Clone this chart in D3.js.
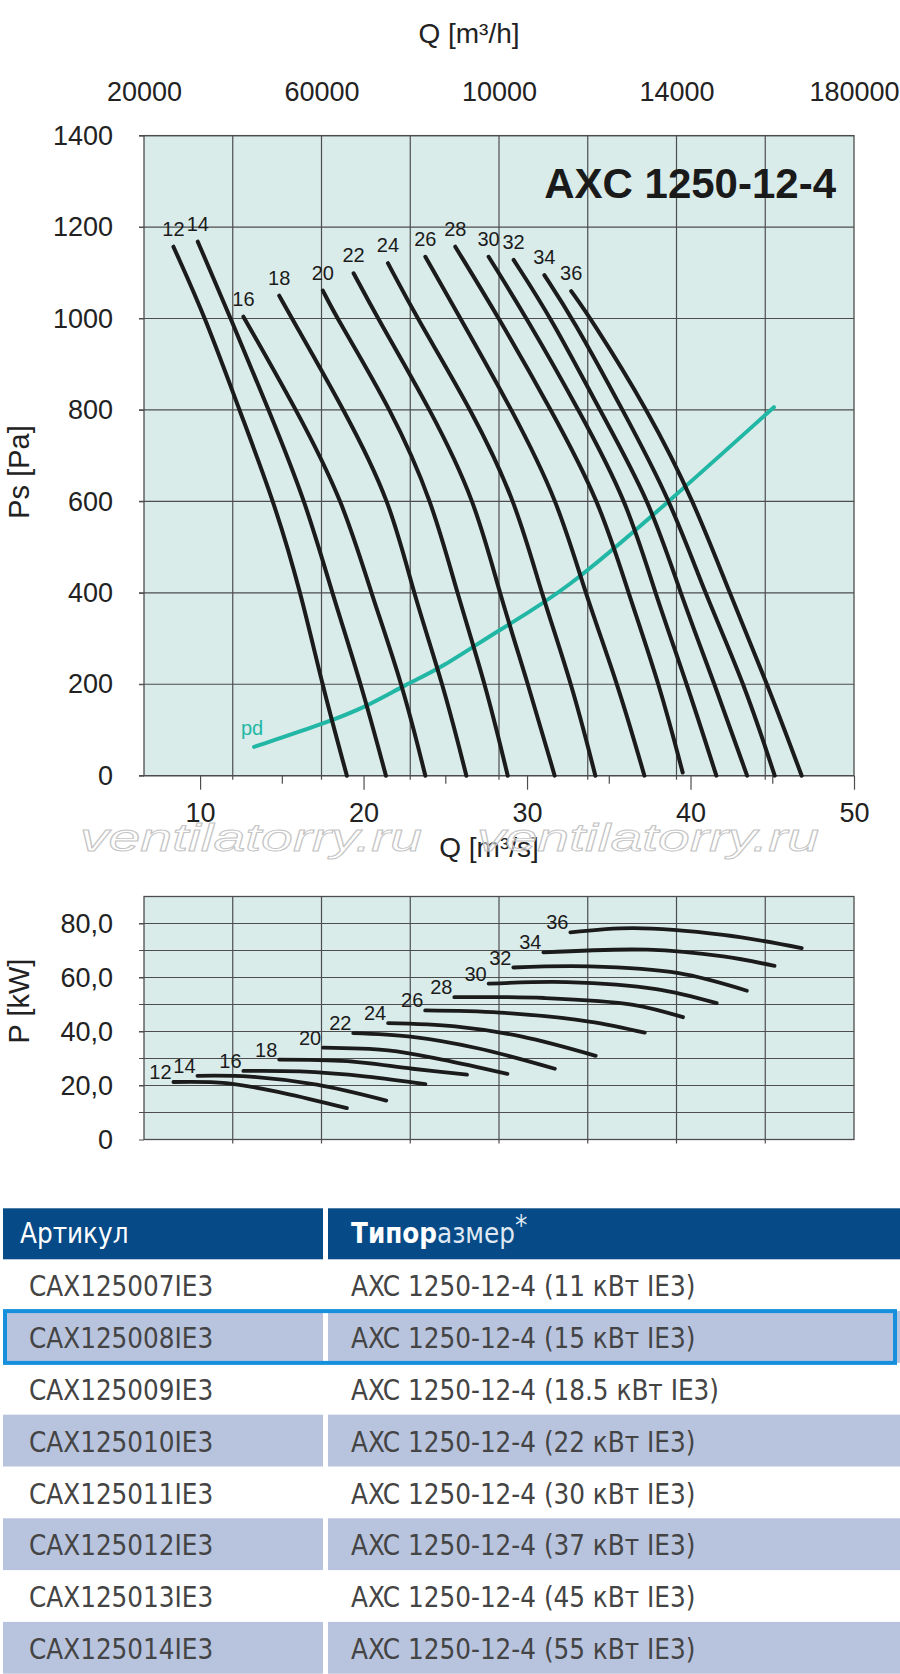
<!DOCTYPE html>
<html>
<head>
<meta charset="utf-8">
<script src="https://cdn.jsdelivr.net/npm/d3@7"></script>
<style>
	body { margin: 0; background: #fff; }
	text { font-family: "Liberation Sans", Arial, sans-serif; }
</style>
</head>
<body>
<div id="chart"></div>
<script>

///////////////////////////////////////////////////////////////////////
// data

const curve_names = [ 12, 14, 16, 18, 20, 22, 24, 26, 28, 30, 32, 34, 36 ];

// static pressure curves, [ Q m3/s, Ps Pa ]
const ps_curves = [
	[ [8.37,1157], [10.35,1000], [12.4,800], [14.52,600], [16.17,400], [17.46,200], [18.98,0] ],
	[ [9.86,1168], [11.88,1000], [14.2,800], [16.45,600], [18.07,400], [19.86,200], [21.37,0] ],
	[ [12.65,1004], [15.91,800], [18.75,600], [20.45,400], [22.38,200], [23.78,0] ],
	[ [14.84,1050], [15.62,1000], [18.82,800], [21.65,600], [23.03,400], [24.87,200], [26.29,0] ],
	[ [17.51,1061], [18.38,1000], [21.71,800], [24.2,600], [25.71,400], [27.46,200], [28.82,0] ],
	[ [19.39,1099], [20.87,1000], [24.11,800], [26.84,600], [28.3,400], [30.07,200], [31.69,0] ],
	[ [21.49,1121], [23.28,1000], [26.61,800], [29.31,600], [30.86,400], [32.75,200], [34.18,0] ],
	[ [23.78,1135], [25.93,1000], [29.09,800], [31.9,600], [33.54,400], [35.56,200], [37.18,0] ],
	[ [25.61,1157], [28.3,1000], [31.48,800], [34.44,600], [36.19,400], [38.1,200], [39.52,7] ],
	[ [27.65,1135], [30.0,1000], [33.17,800], [36.12,600], [37.82,400], [39.79,200], [41.58,0] ],
	[ [29.18,1128], [31.5,1000], [34.44,800], [37.53,600], [39.36,400], [41.48,200], [43.46,0] ],
	[ [31.06,1095], [32.8,1000], [35.85,800], [38.8,600], [40.86,400], [43.31,200], [45.15,0] ],
	[ [32.7,1060], [33.9,1000], [37.39,800], [40.21,600], [42.38,400], [44.71,200], [46.8,0] ]
];

// dynamic pressure line
const pd_curve = [ [13.3,63], [17.5,113], [20.2,151], [22.6,200], [24.7,234], [28.4,322], [32.2,400], [38.7,600], [45.1,806] ];

// shaft power curves, [ Q m3/s, P kW ]
const power_curves = [
	[ [8.37,21.3], [11.6,20.9], [15.1,17.2], [18.98,11.6] ],
	[ [9.84,23.6], [13.06,23.3], [17.14,20.3], [21.39,14.4] ],
	[ [12.65,25.4], [16.12,25.2], [20.2,23.3], [23.78,20.5] ],
	[ [14.84,29.6], [19.0,29.0], [23.0,26.2], [26.33,24.0] ],
	[ [17.52,34.0], [21.5,33.0], [24.8,29.6], [28.8,24.3] ],
	[ [19.37,39.4], [22.87,38.1], [26.97,33.8], [31.7,26.2] ],
	[ [21.5,43.1], [25.6,41.9], [29.7,38.1], [34.2,31.0] ],
	[ [23.77,47.8], [28.34,47.0], [33.8,43.7], [37.2,39.6] ],
	[ [25.55,52.7], [31.06,52.4], [36.5,49.9], [39.54,45.3] ],
	[ [27.65,57.7], [32.43,58.3], [37.9,55.7], [41.6,50.5] ],
	[ [29.16,63.7], [33.8,64.1], [39.27,61.6], [43.45,55.1] ],
	[ [31.0,69.3], [37.36,70.3], [42.0,67.8], [45.14,64.3] ],
	[ [32.65,76.7], [36.5,78.3], [42.0,75.8], [46.8,70.9] ]
];

const ps_ticks = [ 0, 200, 400, 600, 800, 1000, 1200, 1400 ];
const q_ticks = [ 10, 20, 30, 40, 50 ];
const q_minor_ticks = [ 15, 25, 35, 45 ];
const qh_grid = [ 40000, 60000, 80000, 100000, 120000, 140000, 160000 ];
const qh_ticks = [ 20000, 60000, 100000, 140000, 180000 ];
const qh_tick_labels = [ "20000", "60000", "10000", "14000", "180000" ];
const p_grid = [ 10, 20, 30, 40, 50, 60, 70, 80 ];
const p_ticks = [ 0, 20, 40, 60, 80 ];
const p_tick_labels = [ "0", "20,0", "40,0", "60,0", "80,0" ];

const articles = [ "CAX125007IE3", "CAX125008IE3", "CAX125009IE3", "CAX125010IE3",
	"CAX125011IE3", "CAX125012IE3", "CAX125013IE3", "CAX125014IE3" ];
const sizes = [ "AXC 1250-12-4 (11 кВт IE3)", "AXC 1250-12-4 (15 кВт IE3)", "AXC 1250-12-4 (18.5 кВт IE3)",
	"AXC 1250-12-4 (22 кВт IE3)", "AXC 1250-12-4 (30 кВт IE3)", "AXC 1250-12-4 (37 кВт IE3)",
	"AXC 1250-12-4 (45 кВт IE3)", "AXC 1250-12-4 (55 кВт IE3)" ];
const selected_row = 1;

///////////////////////////////////////////////////////////////////////

const W = 900, H = 1674;
const left = 144, right = 854;
const grid_color = "#4d4d4d";
const plot_bg = "#d9ecea";

const svg = d3.select( "#chart" ).append( "svg" )
	.attr( "width", W )
	.attr( "height", H );

let x_q = d3.scaleLinear().domain( [ 6.57, 50 ] ).range( [ left, right ] );
let x_qh = d3.scaleLinear().domain( [ 20000, 180000 ] ).range( [ left, right ] );
let y_ps = d3.scaleLinear().domain( [ 0, 1400 ] ).range( [ 775.7, 135.6 ] );
let y_p = d3.scaleLinear().domain( [ 0, 90 ] ).range( [ 1139.5, 896.5 ] );

function plot_frame( y_scale, y_top, y_grid )	{

	let g = svg.append( "g" );
	g.append( "rect" )
		.attr( "x", left ).attr( "y", y_scale( y_top ) )
		.attr( "width", right - left ).attr( "height", y_scale( 0 ) - y_scale( y_top ) )
		.attr( "fill", plot_bg );

	// vertical grid, a little below the bottom edge
	g.selectAll( "line.v" )
		.data( qh_grid )
		.join( "line" )
			.attr( "class", "v" )
			.attr( "x1", d => x_qh( d ) ).attr( "x2", d => x_qh( d ) )
			.attr( "y1", y_scale( y_top ) ).attr( "y2", y_scale( 0 ) + 4 )
			.attr( "stroke", grid_color ).attr( "stroke-width", 1.2 );

	// horizontal grid, poking out left as ticks
	g.selectAll( "line.h" )
		.data( y_grid )
		.join( "line" )
			.attr( "class", "h" )
			.attr( "x1", left - 5 ).attr( "x2", right )
			.attr( "y1", d => y_scale( d ) ).attr( "y2", d => y_scale( d ) )
			.attr( "stroke", grid_color ).attr( "stroke-width", 1.2 );

	g.append( "rect" )
		.attr( "x", left ).attr( "y", y_scale( y_top ) )
		.attr( "width", right - left ).attr( "height", y_scale( 0 ) - y_scale( y_top ) )
		.attr( "fill", "none" )
		.attr( "stroke", grid_color ).attr( "stroke-width", 1.3 );
	return( g );
}

function axis_text( sel, size )	{
	sel.select( ".domain" ).remove();
	sel.selectAll( "text" )
		.attr( "font-size", size )
		.attr( "fill", "#222" )
		.style( "font-family", "'Liberation Sans', Arial, sans-serif" );
}

///////////////////////////////////////////////////////////////////////
// top chart: Ps over Q

plot_frame( y_ps, 1400, ps_ticks );

svg.append( "g" )
	.attr( "transform", "translate(" + left + ",0)" )
	.call( d3.axisLeft( y_ps ).tickValues( ps_ticks ).tickSize( 5 ).tickPadding( 26 )
		.tickFormat( d3.format( "d" ) ) )
	.call( axis_text, 27 )
	.call( g => g.selectAll( ".tick line" ).attr( "stroke", grid_color ) );

svg.append( "g" )
	.attr( "transform", "translate(0," + y_ps( 0 ) + ")" )
	.call( d3.axisBottom( x_q ).tickValues( q_ticks ).tickSize( 14 ).tickPadding( 13 ) )
	.call( axis_text, 27 )
	.call( g => g.selectAll( ".tick line" ).attr( "stroke", grid_color ).attr( "stroke-width", 1.2 ) );

svg.append( "g" )
	.attr( "transform", "translate(0," + y_ps( 0 ) + ")" )
	.call( d3.axisBottom( x_q ).tickValues( q_minor_ticks ).tickSize( 8 ).tickFormat( "" ) )
	.call( g => g.select( ".domain" ).remove() )
	.call( g => g.selectAll( ".tick line" ).attr( "stroke", grid_color ).attr( "stroke-width", 1.2 ) );

svg.append( "g" )
	.attr( "transform", "translate(0," + y_ps( 1400 ) + ")" )
	.call( d3.axisTop( x_qh ).tickValues( qh_ticks ).tickSize( 0 ).tickPadding( 35 )
		.tickFormat( ( d, i ) => qh_tick_labels[ i ] ) )
	.call( axis_text, 27 );

svg.append( "text" )
	.attr( "x", 469 ).attr( "y", 43 )
	.attr( "text-anchor", "middle" )
	.attr( "font-size", 28 ).attr( "fill", "#222" )
	.text( "Q [m³/h]" );

svg.append( "text" )
	.attr( "x", 489 ).attr( "y", 857 )
	.attr( "text-anchor", "middle" )
	.attr( "font-size", 28 ).attr( "fill", "#222" )
	.text( "Q [m³/s]" );

svg.append( "text" )
	.attr( "transform", "translate(29,472) rotate(-90)" )
	.attr( "text-anchor", "middle" )
	.attr( "font-size", 29 ).attr( "fill", "#222" )
	.text( "Ps [Pa]" );

svg.append( "text" )
	.attr( "x", 836 ).attr( "y", 198 )
	.attr( "text-anchor", "end" )
	.attr( "font-size", 42 ).attr( "font-weight", "bold" ).attr( "fill", "#1a1a1a" )
	.text( "AXC 1250-12-4" );

// B-spline keeps the hand-read points from wobbling
let ps_line = d3.line()
	.curve( d3.curveBasis )
	.x( d => x_q( d[ 0 ] ) )
	.y( d => y_ps( d[ 1 ] ) );

svg.append( "path" )
	.datum( pd_curve )
		.attr( "d", ps_line )
		.attr( "fill", "none" )
		.attr( "stroke", "#22b7a5" )
		.attr( "stroke-width", 4 )
		.attr( "stroke-linecap", "round" );

svg.append( "text" )
	.attr( "x", x_q( pd_curve[ 0 ][ 0 ] ) - 2 )
	.attr( "y", y_ps( pd_curve[ 0 ][ 1 ] ) - 12 )
	.attr( "text-anchor", "middle" )
	.attr( "font-size", 20 ).attr( "fill", "#22b7a5" )
	.text( "pd" );

svg.append( "g" ).selectAll( "path" )
	.data( ps_curves )
	.join( "path" )
		.attr( "d", ps_line )
		.attr( "fill", "none" )
		.attr( "stroke", "#1b1b1b" )
		.attr( "stroke-width", 4 )
		.attr( "stroke-linecap", "round" );

svg.append( "g" ).selectAll( "text" )
	.data( ps_curves )
	.join( "text" )
		.attr( "x", d => x_q( d[ 0 ][ 0 ] ) )
		.attr( "y", d => y_ps( d[ 0 ][ 1 ] ) - 11 )
		.attr( "text-anchor", "middle" )
		.attr( "font-size", 20 ).attr( "fill", "#1b1b1b" )
		.text( ( d, i ) => curve_names[ i ] );

///////////////////////////////////////////////////////////////////////
// bottom chart: P over Q

plot_frame( y_p, 90, p_grid );

svg.append( "g" )
	.attr( "transform", "translate(" + left + ",0)" )
	.call( d3.axisLeft( y_p ).tickValues( p_ticks ).tickSize( 5 ).tickPadding( 26 )
		.tickFormat( ( d, i ) => p_tick_labels[ i ] ) )
	.call( axis_text, 27 )
	.call( g => g.selectAll( ".tick line" ).attr( "stroke", grid_color ) );

svg.append( "text" )
	.attr( "transform", "translate(29,1001) rotate(-90)" )
	.attr( "text-anchor", "middle" )
	.attr( "font-size", 29 ).attr( "fill", "#222" )
	.text( "P [kW]" );

let p_line = d3.line()
	.curve( d3.curveCatmullRom.alpha( 0.5 ) )
	.x( d => x_q( d[ 0 ] ) )
	.y( d => y_p( d[ 1 ] ) );

svg.append( "g" ).selectAll( "path" )
	.data( power_curves )
	.join( "path" )
		.attr( "d", p_line )
		.attr( "fill", "none" )
		.attr( "stroke", "#1b1b1b" )
		.attr( "stroke-width", 3.8 )
		.attr( "stroke-linecap", "round" );

svg.append( "g" ).selectAll( "text" )
	.data( power_curves )
	.join( "text" )
		.attr( "x", d => x_q( d[ 0 ][ 0 ] ) - 13 )
		.attr( "y", d => y_p( d[ 0 ][ 1 ] ) - 3 )
		.attr( "text-anchor", "middle" )
		.attr( "font-size", 20 ).attr( "fill", "#1b1b1b" )
		.text( ( d, i ) => curve_names[ i ] );

///////////////////////////////////////////////////////////////////////
// watermark

svg.append( "g" ).selectAll( "text" )
	.data( [ 80, 477 ] )
	.join( "text" )
		.attr( "x", d => d ).attr( "y", 851 )
		.attr( "font-size", 38 )
		.attr( "font-style", "italic" )
		.attr( "textLength", 342 )
		.attr( "lengthAdjust", "spacingAndGlyphs" )
		.attr( "fill", "rgba(255,255,255,0.55)" )
		.attr( "stroke", "#c4c4c4" )
		.attr( "stroke-width", 0.9 )
		.text( "ventilatorry.ru" );

///////////////////////////////////////////////////////////////////////
// table

const tab_top = 1208.3, head_h = 51, row_h = 51.8;
const col_split = 323, col_gap = 5;
const tab_font = "'Liberation Sans Narrow', 'DejaVu Sans Condensed', 'Liberation Sans', sans-serif";
const tab_size = 27.5;

let tab = svg.append( "g" );

tab.append( "rect" )
	.attr( "x", 3 ).attr( "y", tab_top )
	.attr( "width", col_split - 3 ).attr( "height", head_h )
	.attr( "fill", "#064a87" );
tab.append( "rect" )
	.attr( "x", col_split + col_gap ).attr( "y", tab_top )
	.attr( "width", W - col_split - col_gap ).attr( "height", head_h )
	.attr( "fill", "#064a87" );

tab.append( "text" )
	.attr( "x", 20 ).attr( "y", tab_top + 35 )
	.attr( "font-size", tab_size ).attr( "fill", "#fff" )
	.style( "font-family", tab_font )
	.text( "Артикул" );

let head2 = tab.append( "text" )
	.attr( "x", 351 ).attr( "y", tab_top + 35 )
	.attr( "font-size", tab_size ).attr( "fill", "#fff" )
	.style( "font-family", tab_font );
head2.append( "tspan" ).attr( "font-weight", "bold" ).text( "Типор" );
head2.append( "tspan" ).attr( "fill", "#dfe8f3" ).text( "азмер" );
head2.append( "tspan" ).attr( "dy", -8 ).attr( "fill", "#dfe8f3" ).text( "*" );

let rows = tab.selectAll( "g.row" )
	.data( articles )
	.join( "g" )
		.attr( "class", "row" )
		.attr( "transform", ( d, i ) => "translate(0," + ( tab_top + head_h + i * row_h ) + ")" );

rows.filter( ( d, i ) => i % 2 == 1 )
	.call( g => g.append( "rect" )
		.attr( "x", 3 ).attr( "width", col_split - 3 ).attr( "height", row_h )
		.attr( "fill", "#b8c3dd" ) )
	.call( g => g.append( "rect" )
		.attr( "x", col_split + col_gap ).attr( "width", W - col_split - col_gap ).attr( "height", row_h )
		.attr( "fill", "#b8c3dd" ) );

rows.append( "text" )
	.attr( "x", 29 ).attr( "y", 37 )
	.attr( "font-size", tab_size ).attr( "fill", "#444" )
	.style( "font-family", tab_font )
	.text( d => d );

rows.append( "text" )
	.attr( "x", 351 ).attr( "y", 37 )
	.attr( "font-size", tab_size ).attr( "fill", "#444" )
	.style( "font-family", tab_font )
	.text( ( d, i ) => sizes[ i ] );

tab.append( "rect" )
	.attr( "x", 5 ).attr( "y", tab_top + head_h + selected_row * row_h )
	.attr( "width", W - 10 ).attr( "height", row_h )
	.attr( "fill", "none" )
	.attr( "stroke", "#1690dc" )
	.attr( "stroke-width", 4 );

</script>
</body>
</html>
